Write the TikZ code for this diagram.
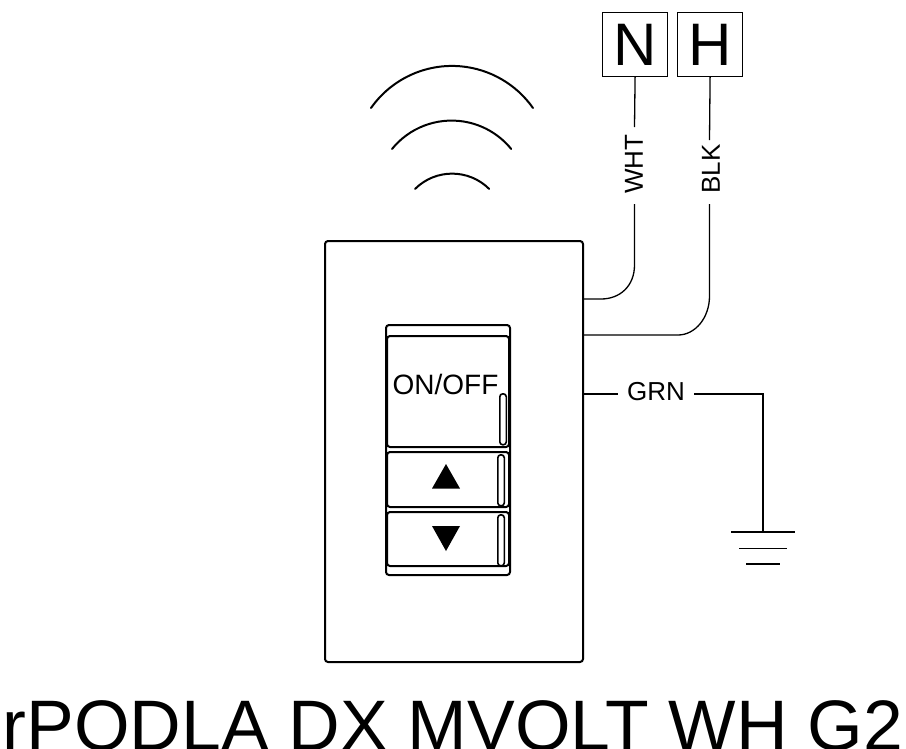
\documentclass[tikz,border=0pt]{standalone}
\usepackage{fontspec}
\setmainfont{Liberation Sans}
\tikzset{
  every node/.style={font=\fontsize{26}{28}\selectfont, text=black},
  plate/.style={draw, line width=2pt, rounded corners=3pt, minimum width=258pt, minimum height=421pt, anchor=north west, inner sep=0},
  key/.style={draw, line width=2pt, rounded corners=3pt, anchor=north west, inner sep=0},
  slot/.style={draw, line width=1.6pt, rounded corners=3pt, fill=white, anchor=north west, inner sep=0, minimum width=6.5pt},
  termbox/.style={draw, line width=1.2pt, minimum width=65pt, minimum height=64pt, anchor=north west, inner sep=0, font=\fontsize{60}{60}\selectfont},
  wire/.style={line width=1.3pt},
  wave/.style={line width=2pt, line cap=round},
  wirelabel/.style={inner ysep=0pt},
  tri/.style={fill=black, draw=none}
}
\begin{document}
\begin{tikzpicture}[x=1pt,y=-1pt]
\useasboundingbox (0,0) rectangle (906,748);
% plate and switch
\node[plate] (pl) at (324,240) {};
\node[key, minimum width=124pt, minimum height=250pt] (frame) at (385,324) {};
\node[key, minimum width=122pt, minimum height=111pt] (onoff) at (386,335) {};
\node[key, minimum width=122pt, minimum height=55pt] (up) at (386,451) {};
\node[key, minimum width=122pt, minimum height=54pt] (down) at (386,511) {};
\node[slot, minimum height=51pt] (s1) at (499,393) {};
\node[slot, minimum height=51pt] (s2) at (497,454) {};
\node[slot, minimum height=51pt] (s3) at (497,514) {};
\node[inner sep=0, font=\fontsize{28}{28}\selectfont] (onofftext) at (445.5,384) {ON/OFF};
\fill[tri] (446,464) -- (460,488.5) -- (432,488.5) -- cycle;
\fill[tri] (446,551) -- (460,526) -- (432,526) -- cycle;
% waves
\draw[wave] (371,108) arc (215.1:324.9:99);
\draw[wave] (392,149) arc (219:321:76.7);
\draw[wave] (415,189) arc (225:315:52.5);
% terminals
\node[termbox] (N) at (602,12) {N};
\node[termbox] (H) at (677,12) {H};
\node[wirelabel, inner xsep=8.5pt, rotate=90] (wht) at (634,164) {WHT};
\node[wirelabel, inner xsep=7pt, rotate=90] (blk) at (711,171) {\kern4pt BLK};
\node[inner xsep=10pt, inner ysep=0] (grn) at (656,392) {GRN};
\coordinate (pw) at (582,299);
\coordinate (pb) at (582,335);
\coordinate (pg) at (582,394);
\coordinate (gt) at (763,532);
\coordinate (wtop) at (634.5,127);
\coordinate (wbot) at (634.5,204);
\coordinate (btop) at (709.5,140);
\coordinate (bbot) at (709.5,204);
\draw[wire] (N.south) -- (wtop);
\draw[wire] (H.south) -- (btop);
\draw[wire] (wbot) -- (634.5,265) .. controls (634.5,286) and (620,299) .. (601,299) -- (pw);
\draw[wire] (bbot) -- (709.5,296) .. controls (709.5,318) and (695,335) .. (678,335) -- (pb);
\draw[wire] (pg) -- (618,394);
\draw[wire] (694,394) -| (gt);
% ground
\coordinate (g1l) at (731,532); \coordinate (g1r) at (795,532);
\coordinate (g2l) at (739,548.5); \coordinate (g2r) at (787,548.5);
\coordinate (g3l) at (746,564); \coordinate (g3r) at (780,564);
\draw[wire] (g1l) -- (g1r);
\draw[wire] (g2l) -- (g2r);
\draw[wire] (g3l) -- (g3r);
% title
\node[inner sep=0, font=\fontsize{71.5}{72}\selectfont, anchor=base] (title) at (453,750) {rPODLA DX MVOLT WH G2};
\end{tikzpicture}
\end{document}
